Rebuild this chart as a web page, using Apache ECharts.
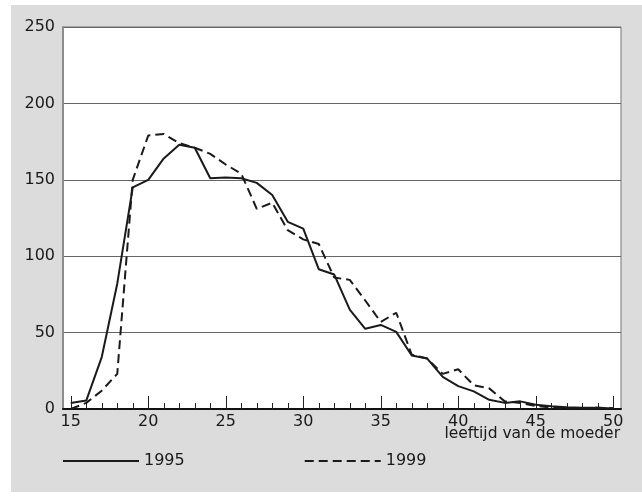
<!DOCTYPE html>
<html>
<head>
<meta charset="utf-8">
<script src="https://cdn.jsdelivr.net/npm/echarts@6/dist/echarts.min.js"></script>
<style>
  html, body { margin: 0; padding: 0; background: #fff; }
  #main { width: 642px; height: 497px; }
</style>
</head>
<body>
<div id="main"></div>
<script>
// leeftijd van de moeder (15 t/m 50)
var ages = [];
for (var a = 15; a <= 50; a++) ages.push(String(a));

var yTicks = [0, 50, 100, 150, 200, 250];

var s1995 = [4, 5.5, 34, 82, 145, 150, 164, 173, 171, 151, 151.5, 151, 148, 140, 122.5, 118,
             91.5, 88, 65, 52.5, 55, 50.5, 35, 33, 21, 15, 11.5, 6, 4, 5, 2.8, 1.8, 1.1, 0.8, 0.8, 0.3];
var s1999 = [0, 4, 12, 23, 150, 179, 180, 174, 171, 167, 160, 154, 131, 135, 117, 111,
             108, 86, 84.5, 71, 57, 63, 35.5, 33, 23, 26, 15.5, 13.5, 5, 4, 2, 1, 0.5, 0.5, 0.8, 0.5];

var font = 'DejaVu Sans';
var ink = '#1a1a1a';

var myChart = echarts.init(document.getElementById('main'));
var option = {
    backgroundColor: '#fff',
    animation: false,
    textStyle: { fontFamily: font, color: ink },
    graphic: [{
        type: 'rect',
        z: -10,
        shape: { x: 11, y: 5, width: 631, height: 487 },
        style: { fill: '#dcdcdc' },
        silent: true
    }],
    title: {
        text: 'leeftijd van de moeder',
        right: 17,
        top: 421,
        textStyle: { fontFamily: font, fontSize: 15.5, fontWeight: 'normal', color: ink }
    },
    legend: {
        left: 57,
        top: 448,
        itemWidth: 76,
        itemHeight: 14,
        itemGap: 119,
        itemStyle: { opacity: 0 },
        textStyle: { fontFamily: font, fontSize: 16, color: ink },
        data: ['1995', '1999']
    },
    grid: [{
        show: true,
        left: 63,
        right: 21,
        top: 27,
        bottom: 88,
        backgroundColor: '#fff',
        borderColor: '#777',
        borderWidth: 1
    }, {
        show: false,
        left: 63,
        right: 21,
        top: 27,
        bottom: 88
    }],
    xAxis: [{
        type: 'category',
        gridIndex: 0,
        data: ages,
        boundaryGap: true,
        axisLine: { show: true, lineStyle: { color: '#111', width: 2 } },
        axisTick: { show: true, inside: true, alignWithLabel: true, interval: 0, length: 6, lineStyle: { color: '#222', width: 1 } },
        axisLabel: { interval: 4, margin: 5, fontFamily: font, fontSize: 16, color: ink },
        splitLine: { show: false }
    }, {
        type: 'category',
        gridIndex: 1,
        data: ages,
        boundaryGap: true,
        axisLine: { show: false },
        axisTick: { show: true, inside: true, alignWithLabel: true, interval: 4, length: 13, lineStyle: { color: '#222', width: 1 } },
        axisLabel: { show: false },
        splitLine: { show: false }
    }],
    yAxis: [{
        type: 'value',
        gridIndex: 0,
        min: yTicks[0],
        max: yTicks[yTicks.length - 1],
        interval: 50,
        axisLine: { show: true, lineStyle: { color: '#8c8c8c', width: 2 } },
        axisTick: { show: false },
        axisLabel: { margin: 8, fontFamily: font, fontSize: 16, color: ink },
        splitLine: { show: true, lineStyle: { color: '#666', width: 1 } }
    }, {
        type: 'value',
        gridIndex: 1,
        min: 0,
        max: 250,
        show: false
    }],
    series: [{
        name: '1995',
        type: 'line',
        symbol: 'none',
        xAxisIndex: 0,
        yAxisIndex: 0,
        lineStyle: { color: ink, width: 2, type: 'solid' },
        itemStyle: { color: ink },
        data: s1995,
        z: 3
    }, {
        name: '1999',
        type: 'line',
        symbol: 'none',
        xAxisIndex: 0,
        yAxisIndex: 0,
        lineStyle: { color: ink, width: 2, type: [9, 5] },
        itemStyle: { color: ink },
        data: s1999,
        z: 2
    }]
};
myChart.setOption(option);
</script>
</body>
</html>
